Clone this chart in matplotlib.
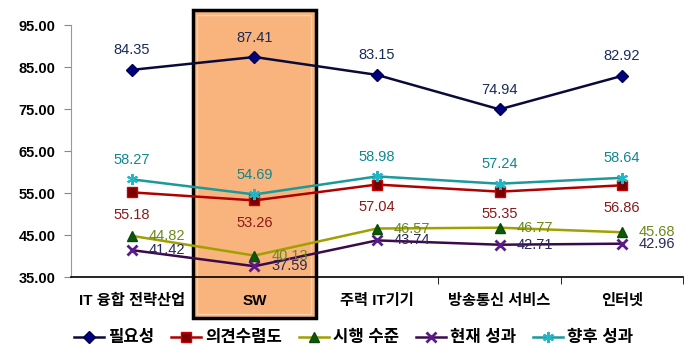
import numpy as np
import matplotlib.pyplot as plt
from matplotlib.patches import Rectangle

plt.rcParams['font.family'] = ['Liberation Sans', 'Noto Sans CJK KR', 'DejaVu Sans']

categories = ['IT 융합 전략산업', 'SW', '주력 IT기기', '방송통신 서비스', '인터넷']
need = [84.35, 87.41, 83.15, 74.94, 82.92]        # 필요성
opinion = [55.18, 53.26, 57.04, 55.35, 56.86]     # 의견수렴도
execution = [44.82, 40.13, 46.57, 46.77, 45.68]   # 시행 수준
current = [41.42, 37.59, 43.74, 42.71, 42.96]     # 현재 성과
future = [58.27, 54.69, 58.98, 57.24, 58.64]      # 향후 성과

x = np.arange(len(categories))

fig = plt.figure(figsize=(6.93, 3.49), dpi=100)
ax = fig.add_axes([0.102, 0.206, 0.884, 0.722])

# highlighted SW column
ax.add_patch(Rectangle((0.5, 25.2), 1.0, 73.4, facecolor='#F9B37C', edgecolor='black',
                       linewidth=2.5, clip_on=False, zorder=0.2))
ax.add_patch(Rectangle((0.535, 26.3), 0.93, 71.2, facecolor='none', edgecolor='#FCD2AE',
                       linewidth=1.0, clip_on=False, zorder=0.3))

ax.plot(x, need, color='#0A0A3A', lw=1.8, marker='D', ms=6.5, mfc='#00007A', mec='#00005A',
        label='필요성', zorder=3)
ax.plot(x, opinion, color='#B00000', lw=1.8, marker='s', ms=7, mfc='#7A0000', mec='#CC0000',
        label='의견수렴도', zorder=3)
ax.plot(x, execution, color='#A0A000', lw=1.8, marker='^', ms=7.5, mfc='#0A5A0A', mec='#0A4A0A',
        label='시행 수준', zorder=3)
ax.plot(x, current, color='#3A0A4A', lw=1.8, marker='x', ms=7, mew=2, mec='#5A1A8A',
        label='현재 성과', zorder=3)
ax.plot(x, future, color='#1A9A9A', lw=1.8, marker=(6, 2, 0), ms=8, mew=1.5, mec='#20B8C8',
        label='향후 성과', zorder=3)

fs = 10.5
for i in range(len(x)):
    ax.annotate(f'{need[i]:.2f}', (x[i], need[i]), xytext=(0, 9), textcoords='offset points',
                ha='center', va='bottom', color='#1A2A5A', fontsize=fs)
    ax.annotate(f'{future[i]:.2f}', (x[i], future[i]), xytext=(0, 9), textcoords='offset points',
                ha='center', va='bottom', color='#10888E', fontsize=fs)
    ax.annotate(f'{opinion[i]:.2f}', (x[i], opinion[i]), xytext=(0, -11), textcoords='offset points',
                ha='center', va='top', color='#8A1A1A', fontsize=fs)
    ax.annotate(f'{execution[i]:.2f}', (x[i], execution[i]), xytext=(12, 0), textcoords='offset points',
                ha='left', va='center', color='#6A8A1A', fontsize=fs)
    ax.annotate(f'{current[i]:.2f}', (x[i], current[i]), xytext=(12, 0), textcoords='offset points',
                ha='left', va='center', color='#2A2A5A', fontsize=fs)

ax.set_xlim(-0.5, 4.5)
ax.set_ylim(35, 95)
ax.set_yticks(np.arange(35, 96, 10))
ax.set_yticklabels([f'{v:.2f}' for v in np.arange(35, 96, 10)], fontsize=fs, fontweight='bold')
ax.set_xticks(x)
ax.set_xticklabels(categories, fontsize=11, fontweight='bold')
ax.set_xticks(np.arange(0.5, 5, 1.0), minor=True)
ax.tick_params(axis='x', which='major', length=0, pad=12)
ax.tick_params(axis='x', which='minor', length=5, direction='out', color='black')
ax.tick_params(axis='y', length=5, color='#888888', pad=6)

ax.spines['top'].set_visible(False)
ax.spines['right'].set_visible(False)
ax.spines['left'].set_color('#999999')
ax.spines['bottom'].set_color('black')
ax.spines['bottom'].set_linewidth(1.2)
ax.patch.set_alpha(0)

leg = fig.legend(loc='center', bbox_to_anchor=(0.51, 0.032), ncol=5, frameon=False,
                 prop={'weight': 'bold', 'size': 12}, handlelength=1.8, columnspacing=1.0,
                 handletextpad=0.25, borderpad=0)

fig.savefig('out.png', dpi=100)
